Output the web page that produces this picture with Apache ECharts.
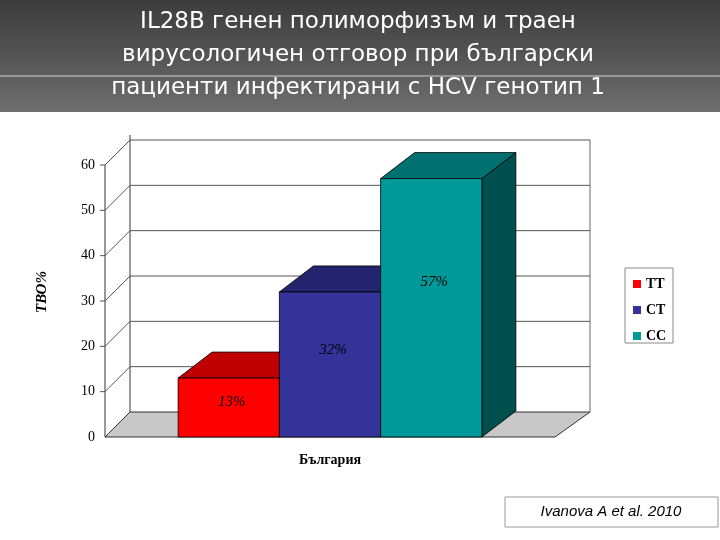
<!DOCTYPE html>
<html><head><meta charset="utf-8">
<script src="https://cdn.jsdelivr.net/npm/echarts@6/dist/echarts.min.js"></script>
<style>html,body{margin:0;padding:0;background:#fff}#c{width:720px;height:540px}</style>
</head><body><div id="c"></div>
<script>
const categories = ['България'];
const seriesNames = ['TT', 'CT', 'CC'];
const values = [13, 32, 57];
const labels = ['13%', '32%', '57%'];
const yTicks = [0, 10, 20, 30, 40, 50, 60];
const colors = [
  {front:'#ff0000', top:'#c00000', side:'#900000'},
  {front:'#333399', top:'#24246e', side:'#1a1a50'},
  {front:'#009999', top:'#007070', side:'#004f4f'}
];
const BD = [34, -26]; // bar depth
const WD = [25, -25]; // wall depth
const chart = echarts.init(document.getElementById('c'));

function wallRender(params, api) {
  const v = api.value(0);
  const p0 = api.coord([0, v]);
  const band = api.size([1, 0])[0];
  const x0 = p0[0] - band / 2, x1 = p0[0] + band / 2;
  const y = p0[1];
  const children = [];
  if (params.dataIndex === 0) {
    const top = api.coord([0, 60])[1];
    children.push({type:'polygon', shape:{points:[[x0,y],[x1,y],[x1+WD[0]+10,y+WD[1]],[x0+WD[0],y+WD[1]]]},
      style:{fill:'#c8c8c8', stroke:'#333', lineWidth:1}});
    children.push({type:'line', shape:{x1:x0,y1:y,x2:x0,y2:top}, style:{stroke:'#333',lineWidth:1}});
    children.push({type:'line', shape:{x1:x0+WD[0],y1:y+WD[1],x2:x0+WD[0],y2:top+WD[1]-5}, style:{stroke:'#333',lineWidth:1}});
    children.push({type:'line', shape:{x1:x1+WD[0]+10,y1:y+WD[1],x2:x1+WD[0]+10,y2:top+WD[1]}, style:{stroke:'#666',lineWidth:1}});
  } else {
    children.push({type:'polyline', shape:{points:[[x0-5,y],[x0,y],[x0+WD[0],y+WD[1]],[x1+WD[0]+10,y+WD[1]]]},
      style:{stroke:'#555', lineWidth:1, fill:null}});
  }
  return {type:'group', children};
}

function barRender(idx) {
  return function(params, api) {
    const v = api.value(1);
    const base = api.coord([0, 0]);
    const topP = api.coord([0, v]);
    const band = api.size([1, 0])[0];
    const w = band * 0.225;
    const start = base[0] - w * 1.5 + idx * w;
    const xa = start, xb = start + w, yb = base[1], yt = topP[1];
    const c = colors[idx];
    const lab = api.coord([0, v * 0.6]);
    return {type:'group', children:[
      {type:'polygon', shape:{points:[[xb,yb],[xb+BD[0],yb+BD[1]],[xb+BD[0],yt+BD[1]],[xb,yt]]}, style:{fill:c.side, stroke:'#000', lineWidth:0.8}},
      {type:'polygon', shape:{points:[[xa,yt],[xb,yt],[xb+BD[0],yt+BD[1]],[xa+BD[0],yt+BD[1]]]}, style:{fill:c.top, stroke:'#000', lineWidth:0.8}},
      {type:'rect', shape:{x:xa, y:yt, width:w, height:yb-yt}, style:{fill:c.front, stroke:'#000', lineWidth:0.8}},
      {type:'text', x: xa + w/2 + 3, y: lab[1], style:{text: labels[idx], font:'italic 15px "Liberation Serif"', fill:'#000', align:'center', verticalAlign:'middle'}}
    ]};
  };
}

const series = [{
  type:'custom', name:'wall', renderItem: wallRender, silent:true, z:1,
  data: yTicks.map(t => [t])
}];
seriesNames.forEach((n, i) => series.push({
  type:'custom', name:n, renderItem: barRender(i), z:2,
  itemStyle:{color: colors[i].front}, encode:{x:0, y:1},
  data: [[0, values[i]]]
}));

chart.setOption({
  animation:false,
  graphic:[
    {type:'rect', shape:{x:0,y:0,width:720,height:112}, style:{fill:new echarts.graphic.LinearGradient(0,0,0,1,[{offset:0,color:'#3c3c3c'},{offset:1,color:'#6e6e6e'}])}},
    {type:'line', shape:{x1:0,y1:76,x2:720,y2:76}, style:{stroke:'#cfcfcf',lineWidth:1}},
    {type:'text', x:358, y:6, style:{text:'IL28B генен полиморфизъм и траен\nвирусологичен отговор при български\nпациенти инфектирани с HCV генотип 1', font:'23px "DejaVu Sans"', fill:'#fff', align:'center', lineHeight:33}},
    {type:'text', x:42, y:292, rotation:Math.PI/2, style:{text:'ТВО%', font:'bold italic 15px "Liberation Serif"', fill:'#000', align:'center', verticalAlign:'middle'}},
    {type:'rect', shape:{x:505,y:497,width:213,height:30}, style:{fill:'#fff', stroke:'#999', lineWidth:1}},
    {type:'text', x:611, y:512, style:{text:'Ivanova A et al. 2010', font:'italic 15px "Liberation Sans"', fill:'#000', align:'center', verticalAlign:'middle'}},
    {type:'rect', shape:{x:625,y:268,width:48,height:75}, style:{fill:'#fff', stroke:'#888', lineWidth:1}}
  ],
  legend:{
    data: seriesNames, orient:'vertical', left:628, top:272, itemWidth:8, itemHeight:8, itemGap:12,
    icon:'rect', textStyle:{fontFamily:'Liberation Serif', fontWeight:'bold', fontSize:14, color:'#000'}
  },
  grid:{left:105, right:165, top:165, bottom:103},
  xAxis:{type:'category', data:categories, axisLine:{show:false}, axisTick:{show:false},
    axisLabel:{margin:16, fontFamily:'Liberation Serif', fontWeight:'bold', fontSize:14, color:'#000'}},
  yAxis:{type:'value', min:0, max:60, interval:10, splitLine:{show:false}, axisLine:{show:false}, axisTick:{show:false},
    axisLabel:{margin:10, fontFamily:'Liberation Serif', fontSize:14, color:'#000'}},
  series
});
</script></body></html>
